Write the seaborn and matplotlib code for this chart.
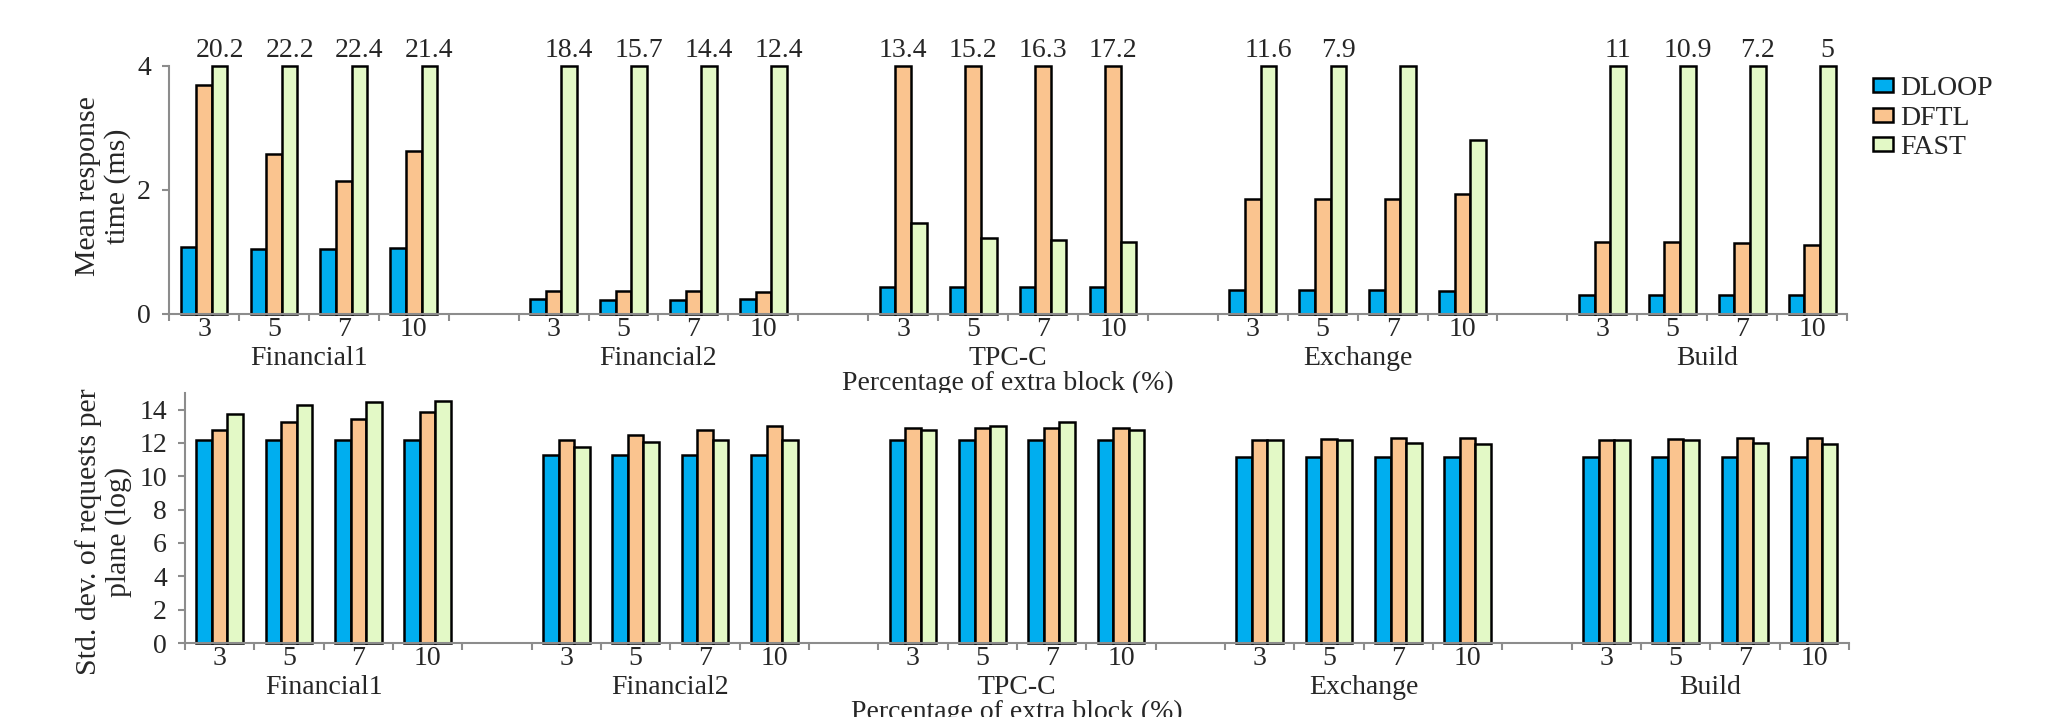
import numpy as np
import pandas as pd
import matplotlib.pyplot as plt
from matplotlib.patches import Patch
import seaborn as sns

# Data
workloads = ['Financial1', 'Financial2', 'TPC-C', 'Exchange', 'Build']
percents = ['3', '5', '7', '10']
schemes = ['DLOOP', 'DFTL', 'FAST']
colors = ['#00AEEF', '#FAC48F', '#E3F9C6']

# mean response time (ms), 4 percentages per workload
resp_dloop = [1.08, 1.05, 1.05, 1.07, 0.24, 0.22, 0.22, 0.24, 0.44, 0.43, 0.43, 0.43,
              0.39, 0.38, 0.38, 0.37, 0.31, 0.31, 0.30, 0.30]
resp_dftl = [3.70, 2.58, 2.15, 2.63, 0.37, 0.37, 0.37, 0.35, 13.4, 15.2, 16.3, 17.2,
             1.86, 1.86, 1.86, 1.93, 1.16, 1.16, 1.15, 1.11]
resp_fast = [20.2, 22.2, 22.4, 21.4, 18.4, 15.7, 14.4, 12.4, 1.46, 1.23, 1.19, 1.16,
             11.6, 7.9, 4.0, 2.81, 11, 10.9, 7.2, 5]

# std. dev. of requests per plane (log)
std_dloop = [12.2, 12.2, 12.2, 12.2, 11.28, 11.28, 11.28, 11.28, 12.16, 12.16, 12.16, 12.16,
             11.16, 11.16, 11.16, 11.16, 11.16, 11.16, 11.16, 11.16]
std_dftl = [12.8, 13.24, 13.44, 13.84, 12.2, 12.48, 12.76, 13.04, 12.92, 12.92, 12.92, 12.92,
            12.16, 12.24, 12.28, 12.32, 12.16, 12.24, 12.28, 12.32]
std_fast = [13.76, 14.28, 14.48, 14.54, 11.76, 12.04, 12.16, 12.2, 12.76, 13.04, 13.24, 12.8,
            12.16, 12.16, 12.0, 11.92, 12.16, 12.16, 12.0, 11.92]

RESP_CAP = 4

# category slots, with an empty slot between workloads
order, tick_labels = [], []
for i, w in enumerate(workloads):
    for p in percents:
        order.append(f'{w}|{p}')
        tick_labels.append(p)
    if i < len(workloads) - 1:
        order.append(f'gap{i}')
        tick_labels.append('')

rows = []
for s, resp, std in zip(schemes, [resp_dloop, resp_dftl, resp_fast], [std_dloop, std_dftl, std_fast]):
    k = 0
    for w in workloads:
        for p in percents:
            rows.append({'slot': f'{w}|{p}', 'scheme': s, 'resp': resp[k],
                         'resp_shown': min(resp[k], RESP_CAP), 'std': std[k]})
            k += 1
df = pd.DataFrame(rows)

sns.set_style('ticks')
plt.rcParams['font.family'] = ['Liberation Serif', 'DejaVu Serif']
gray = '#8c8c8c'
FS = 20
BAR_W = 0.67

fig = plt.figure(figsize=(20.67, 7.17), dpi=100)
ax1 = fig.add_axes([0.0818, 0.5621, 0.8118, 0.3459])
ax2 = fig.add_axes([0.0895, 0.1032, 0.8050, 0.3487])


def draw(ax, col, ymax, yticks, ylabel, label_xy):
    sns.barplot(data=df, x='slot', y=col, hue='scheme', order=order, hue_order=schemes,
                palette=colors, saturation=1, width=BAR_W, edgecolor='black',
                linewidth=1.8, errorbar=None, legend=False, ax=ax)
    for p in ax.patches:
        p.set_clip_on(False)
    ax.set_xlim(-0.5, len(order) - 0.5)
    ax.set_ylim(0, ymax)
    ax.set_yticks(yticks)
    ax.set_xticks(np.arange(-0.5, len(order), 1))
    ax.set_xticklabels([])
    ax.set_xticks(np.arange(len(order)), minor=True)
    ax.set_xticklabels(tick_labels, minor=True)
    ax.tick_params(axis='x', which='major', length=5, width=1.5, color=gray, direction='out')
    ax.tick_params(axis='x', which='minor', length=0, pad=2.5, labelsize=FS)
    ax.tick_params(axis='y', length=5, width=1.5, color=gray, pad=8, labelsize=FS)
    sns.despine(ax=ax)
    for sp in ['left', 'bottom']:
        ax.spines[sp].set_color(gray)
        ax.spines[sp].set_linewidth(1.5)
    ax.set_xlabel('')
    ax.set_ylabel(ylabel, fontsize=21.5, linespacing=1.15)
    ax.yaxis.set_label_coords(*label_xy)
    ax.yaxis.label.set_va('center')
    # workload names under each group
    for i, w in enumerate(workloads):
        xc = i * (len(percents) + 1) + (len(percents) - 1) / 2
        ax.annotate(w, xy=(xc, 0), xycoords=('data', 'axes fraction'), xytext=(0, -36.7),
                    textcoords='offset points', ha='center', va='baseline', fontsize=FS)
    ax.annotate('Percentage of extra block (%)', xy=((len(order) - 1) / 2, 0),
                xycoords=('data', 'axes fraction'), xytext=(0, -54.7),
                textcoords='offset points', ha='center', va='baseline', fontsize=FS,
                annotation_clip=False)


draw(ax1, 'resp_shown', RESP_CAP, [0, 2, 4], 'Mean response\ntime (ms)', (-0.0393, 0.516))
draw(ax2, 'std', 15, np.arange(0, 15, 2), 'Std. dev. of requests per\nplane (log)', (-0.0487, 0.444))

# values beyond the cap written above the bars
offsets = (np.arange(len(schemes)) - (len(schemes) - 1) / 2) * BAR_W / len(schemes)
for _, r in df[df['resp'] > RESP_CAP].iterrows():
    x = order.index(r['slot']) + offsets[schemes.index(r['scheme'])]
    ax1.annotate(f"{r['resp']:g}", xy=(x, RESP_CAP), xytext=(0, 6.5), textcoords='offset points',
                 ha='center', va='baseline', fontsize=FS, annotation_clip=False)

handles = [Patch(facecolor=c, edgecolor='black', linewidth=1.8, label=s) for s, c in zip(schemes, colors)]
ax1.legend(handles=handles, loc='center left', bbox_to_anchor=(1.0155, 0.79), frameon=False,
           fontsize=FS, handlelength=0.71, handleheight=0.4, handletextpad=0.25,
           labelspacing=0.17, borderpad=0, borderaxespad=0)

fig.savefig('out.png', dpi=100)
